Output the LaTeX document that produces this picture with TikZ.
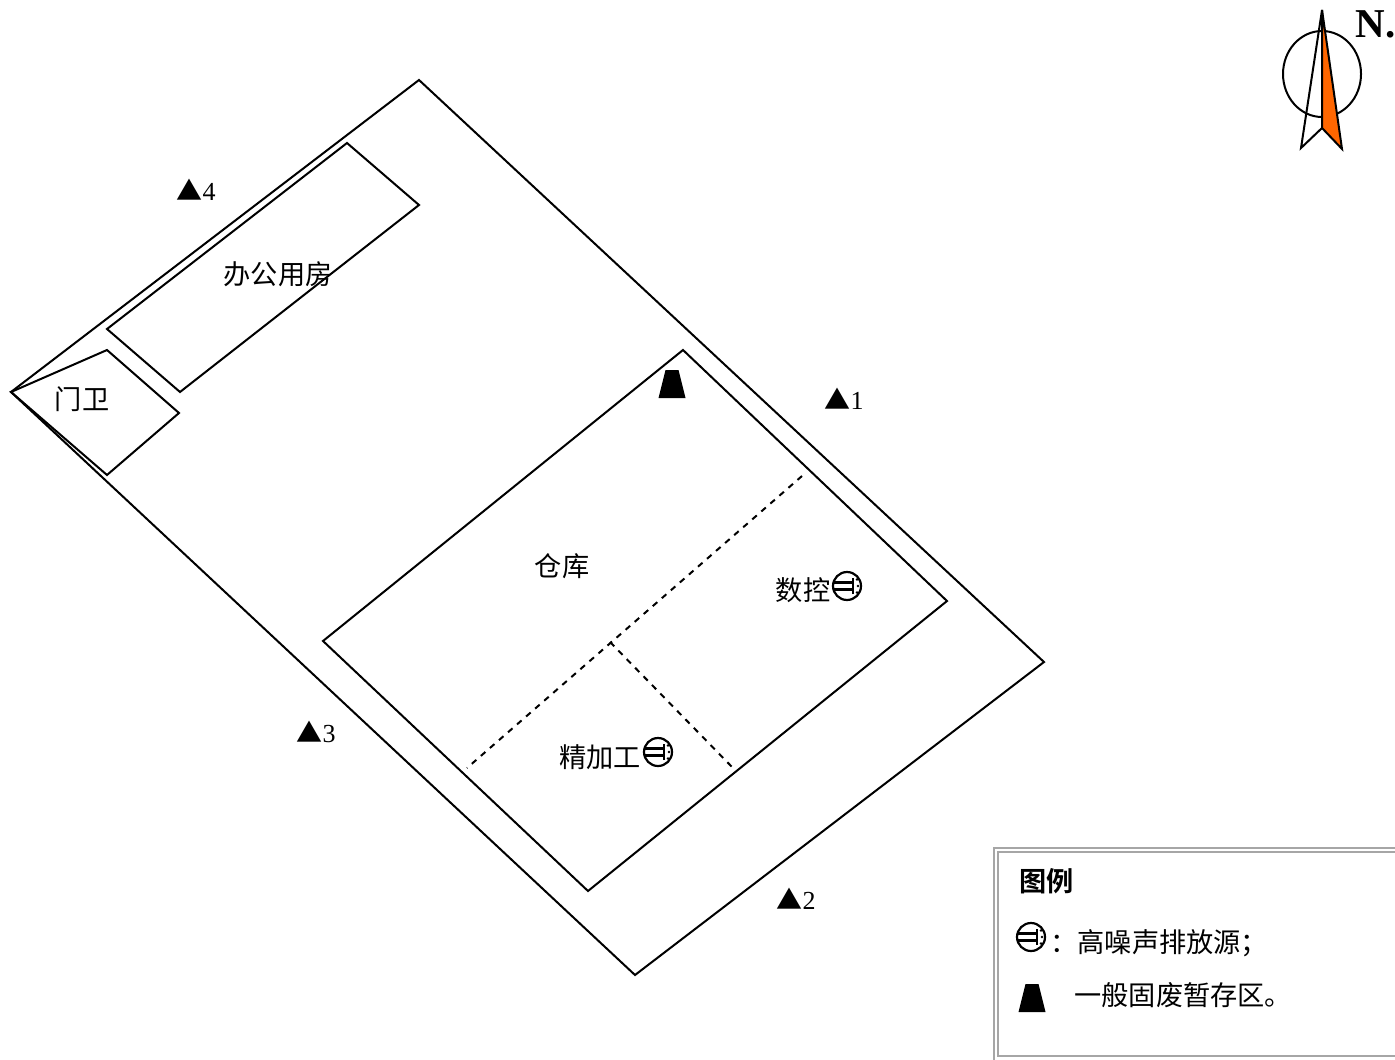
\documentclass[tikz,border=0pt]{standalone}
\usepackage{fontspec}
\setmainfont{Liberation Serif}
\newfontfamily\cjk{Noto Sans CJK SC}
\newfontfamily\cjkb{Noto Sans CJK SC}[BoldFont={Noto Sans CJK SC Bold}]
\tikzset{
	label cn/.style={inner sep=0pt, font=\cjk\fontsize{13.6}{14}\selectfont},
	label pt/.style={inner sep=0pt, font=\fontsize{13}{13}\selectfont},
	plan line/.style={line width=1pt, line join=miter},
	waste/.pic={\fill[black] (-6.5,-14) -- (6.5,-14) -- (13.5,14) -- (-13.5,14) -- cycle;},
	noise/.pic={
		\draw[line width=1.1pt] (0,0) circle (14);
		\draw[line width=1.1pt] (-14,3.5) -- (6,3.5) (-14,-3.5) -- (6,-3.5) (6,8) -- (6,-8);
		\fill (10,-6.5) circle (1.4) (11,0) circle (1.4) (10,6.5) circle (1.4);
	}
}
\begin{document}
\begin{tikzpicture}[x=0.5pt, y=-0.5pt]
	\useasboundingbox (0,0) rectangle (1395,1059);
	% site and buildings
	\draw[plan line] (419,80) -- (1044,662) -- (635,975) -- (11,392) -- cycle;
	\draw[plan line] (347,143) -- (419,205) -- (180,392) -- (107,329) -- cycle;
	\draw[plan line] (11,392) -- (107,350) -- (179,413) -- (107,475) -- cycle;
	\draw[plan line] (683,350) -- (947,601) -- (588,891) -- (323,641) -- cycle;
	\draw[plan line, dashed] (802,476) -- (467,768);
	\draw[plan line, dashed] (610,642) -- (733,768);
	% room names
	\node[label cn] (office) at (278,274) {办公用房};
	\node[label cn] (gate) at (82,399) {门卫};
	\node[label cn] (store) at (562,566) {仓库};
	\node[label cn] (cnc) at (803,590) {数控};
	\node[label cn] (finish) at (600,757) {精加工};
	\pic at (847,586) {noise};
	\pic at (658,752) {noise};
	\pic at (672,384) {waste};
	% measuring points
	\node[label pt] (p1) at (844,399) {{\cjk\fontsize{13}{13}\selectfont ▲}1};
	\node[label pt] (p2) at (796,899) {{\cjk\fontsize{13}{13}\selectfont ▲}2};
	\node[label pt] (p3) at (316,732) {{\cjk\fontsize{13}{13}\selectfont ▲}3};
	\node[label pt] (p4) at (196,190) {{\cjk\fontsize{13}{13}\selectfont ▲}4};
	% north arrow
	\draw[line width=1pt] (1322,74) ellipse (39 and 43);
	\draw[line width=1pt] (1322,10) -- (1301,148) -- (1322,128) -- cycle;
	\draw[line width=1pt, fill={rgb,255:red,255;green,102;blue,0}] (1322,10) -- (1322,128) -- (1342,149) -- cycle;
	\node[inner sep=0pt, anchor=west, font=\bfseries\fontsize{20.5}{21}\selectfont] (north) at (1355,24) {N.};
	% legend
	\draw[gray!70, line width=0.8pt] (1400,848) -- (994,848) -- (994,1064);
	\draw[gray!70, line width=0.8pt] (1400,852) -- (998,852) -- (998,1056) -- (1400,1056);
	\node[inner sep=0pt, anchor=west, font=\cjkb\bfseries\fontsize{13.6}{14}\selectfont] (legend) at (1019,881) {图例};
	\pic at (1031,937) {noise};
	\node[label cn, anchor=west] (noisetext) at (1050,943) {：高噪声排放源；};
	\pic at (1032,998) {waste};
	\node[label cn, anchor=west] (wastetext) at (1074,995) {一般固废暂存区。};
\end{tikzpicture}
\end{document}
